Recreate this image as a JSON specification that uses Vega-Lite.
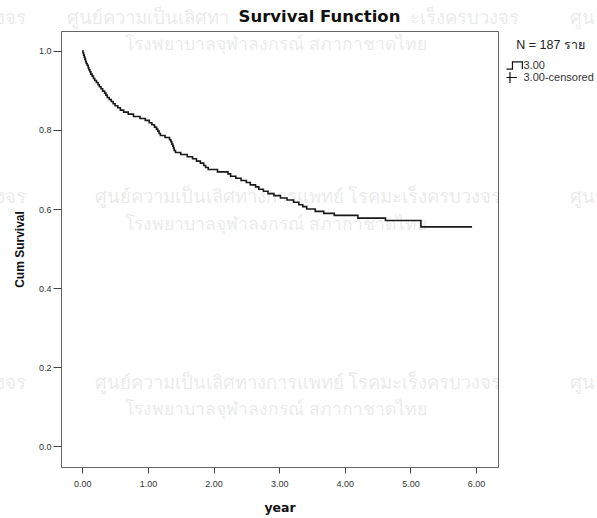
{
  "$schema": "https://vega.github.io/schema/vega-lite/v6.json",
  "autosize": {"type": "none"},
  "width": 437,
  "height": 436,
  "padding": {"left": 61, "top": 31, "right": 99, "bottom": 51},
  "background": "white",
  "title": {"text": "Survival Function", "frame": "group", "fontSize": 16.5, "fontWeight": "bold", "font": "DejaVu Sans", "color": "#111", "anchor": "middle", "dx": 40, "dy": 24, "offset": 7},
  "config": {
    "view": {"fill": "#f0f0f0", "stroke": "#666", "strokeWidth": 1},
    "font": "Liberation Sans",
    "axis": {"grid": false, "domain": false, "tickColor": "#444", "tickSize": 5, "labelFontSize": 9, "labelColor": "#333", "titleFontSize": 11, "titleFontWeight": "bold", "titleColor": "#111", "labelFont": "Liberation Sans", "titleFont": "Liberation Sans"}
  },
  "datasets": {
    "curve": [
      {"year": 0.0, "cum": 1.0},
      {"year": 0.01, "cum": 0.995},
      {"year": 0.02, "cum": 0.989},
      {"year": 0.03, "cum": 0.984},
      {"year": 0.04, "cum": 0.979},
      {"year": 0.05, "cum": 0.973},
      {"year": 0.06, "cum": 0.968},
      {"year": 0.075, "cum": 0.963},
      {"year": 0.09, "cum": 0.957},
      {"year": 0.10, "cum": 0.952},
      {"year": 0.115, "cum": 0.947},
      {"year": 0.13, "cum": 0.941},
      {"year": 0.15, "cum": 0.936},
      {"year": 0.17, "cum": 0.930},
      {"year": 0.19, "cum": 0.925},
      {"year": 0.215, "cum": 0.920},
      {"year": 0.24, "cum": 0.914},
      {"year": 0.26, "cum": 0.909},
      {"year": 0.285, "cum": 0.904},
      {"year": 0.31, "cum": 0.898},
      {"year": 0.34, "cum": 0.893},
      {"year": 0.36, "cum": 0.888},
      {"year": 0.38, "cum": 0.882},
      {"year": 0.41, "cum": 0.877},
      {"year": 0.44, "cum": 0.872},
      {"year": 0.47, "cum": 0.866},
      {"year": 0.50, "cum": 0.861},
      {"year": 0.54, "cum": 0.856},
      {"year": 0.58, "cum": 0.850},
      {"year": 0.63, "cum": 0.845},
      {"year": 0.70, "cum": 0.840},
      {"year": 0.78, "cum": 0.834},
      {"year": 0.88, "cum": 0.829},
      {"year": 0.96, "cum": 0.824},
      {"year": 1.02, "cum": 0.818},
      {"year": 1.06, "cum": 0.813},
      {"year": 1.10, "cum": 0.807},
      {"year": 1.13, "cum": 0.802},
      {"year": 1.15, "cum": 0.797},
      {"year": 1.17, "cum": 0.791},
      {"year": 1.19, "cum": 0.786},
      {"year": 1.26, "cum": 0.781},
      {"year": 1.33, "cum": 0.775},
      {"year": 1.35, "cum": 0.770},
      {"year": 1.365, "cum": 0.764},
      {"year": 1.38, "cum": 0.759},
      {"year": 1.39, "cum": 0.754},
      {"year": 1.40, "cum": 0.748},
      {"year": 1.42, "cum": 0.743},
      {"year": 1.50, "cum": 0.738},
      {"year": 1.60, "cum": 0.732},
      {"year": 1.68, "cum": 0.727},
      {"year": 1.74, "cum": 0.721},
      {"year": 1.80, "cum": 0.716},
      {"year": 1.85, "cum": 0.710},
      {"year": 1.88, "cum": 0.705},
      {"year": 1.92, "cum": 0.700},
      {"year": 2.06, "cum": 0.694},
      {"year": 2.22, "cum": 0.689},
      {"year": 2.26, "cum": 0.683},
      {"year": 2.34, "cum": 0.678},
      {"year": 2.42, "cum": 0.672},
      {"year": 2.50, "cum": 0.667},
      {"year": 2.56, "cum": 0.661},
      {"year": 2.64, "cum": 0.656},
      {"year": 2.69, "cum": 0.650},
      {"year": 2.76, "cum": 0.645},
      {"year": 2.83, "cum": 0.639},
      {"year": 2.92, "cum": 0.634},
      {"year": 3.02, "cum": 0.628},
      {"year": 3.12, "cum": 0.623},
      {"year": 3.22, "cum": 0.617},
      {"year": 3.30, "cum": 0.611},
      {"year": 3.36, "cum": 0.606},
      {"year": 3.42, "cum": 0.600},
      {"year": 3.55, "cum": 0.594},
      {"year": 3.68, "cum": 0.589},
      {"year": 3.84, "cum": 0.584},
      {"year": 4.20, "cum": 0.577},
      {"year": 4.62, "cum": 0.571},
      {"year": 5.16, "cum": 0.555},
      {"year": 5.94, "cum": 0.555}
    ],
    "watermark1": [
      {"year": -3.951, "cum": 1.083, "text": "ศูนย์ความเป็นเลิศทางการแพทย์ โรคมะเร็งครบวงจร"},
      {"year": 10.526, "cum": 1.083, "text": "ศูนย์ความเป็นเลิศทางการแพทย์ โรคมะเร็งครบวงจร"},
      {"year": 3.287, "cum": 0.630, "text": "ศูนย์ความเป็นเลิศทางการแพทย์ โรคมะเร็งครบวงจร"},
      {"year": -3.951, "cum": 0.630, "text": "ศูนย์ความเป็นเลิศทางการแพทย์ โรคมะเร็งครบวงจร"},
      {"year": 10.526, "cum": 0.630, "text": "ศูนย์ความเป็นเลิศทางการแพทย์ โรคมะเร็งครบวงจร"},
      {"year": 3.287, "cum": 0.160, "text": "ศูนย์ความเป็นเลิศทางการแพทย์ โรคมะเร็งครบวงจร"},
      {"year": -3.951, "cum": 0.160, "text": "ศูนย์ความเป็นเลิศทางการแพทย์ โรคมะเร็งครบวงจร"},
      {"year": 10.526, "cum": 0.160, "text": "ศูนย์ความเป็นเลิศทางการแพทย์ โรคมะเร็งครบวงจร"}
    ],
    "watermarkLeft": [
      {"year": 2.23, "cum": 1.083, "text": "ศูนย์ความเป็นเลิศทา"}
    ],
    "watermarkRight": [
      {"year": 4.99, "cum": 1.083, "text": "ะเร็งครบวงจร"}
    ],
    "watermark2": [
      {"year": 2.951, "cum": 1.015, "text": "โรงพยาบาลจุฬาลงกรณ์ สภากาชาดไทย"},
      {"year": 2.951, "cum": 0.559, "text": "โรงพยาบาลจุฬาลงกรณ์ สภากาชาดไทย"},
      {"year": 2.951, "cum": 0.092, "text": "โรงพยาบาลจุฬาลงกรณ์ สภากาชาดไทย"}
    ],
    "legend": [
      {"series": "3.00"},
      {"series": "3.00-censored"}
    ]
  },
  "layer": [
    {
      "data": {"name": "watermark1"},
      "mark": {"type": "text", "clip": false, "font": "Noto Sans", "fontSize": 18.5, "color": "#000", "opacity": 0.08, "align": "center", "baseline": "middle"},
      "encoding": {
        "x": {"field": "year", "type": "quantitative", "scale": {"domain": [-0.3246, 6.335], "nice": false, "zero": false}, "axis": {"title": "year", "values": [0, 1, 2, 3, 4, 5, 6], "format": ".2f", "titlePadding": 13, "labelPadding": 6, "tickSize": 6, "titleFont": "DejaVu Sans", "titleFontSize": 12.5}},
        "y": {"field": "cum", "type": "quantitative", "scale": {"domain": [-0.052, 1.050], "nice": false, "zero": false}, "axis": {"title": "Cum Survival", "values": [0, 0.2, 0.4, 0.6, 0.8, 1.0], "format": ".1f", "titlePadding": 12, "labelPadding": 2, "tickSize": 8, "titleFontSize": 12}},
        "text": {"field": "text"}
      }
    },
    {
      "data": {"name": "watermarkLeft"},
      "mark": {"type": "text", "clip": false, "font": "Noto Sans", "fontSize": 18.5, "color": "#000", "opacity": 0.08, "align": "right", "baseline": "middle"},
      "encoding": {
        "x": {"field": "year", "type": "quantitative"},
        "y": {"field": "cum", "type": "quantitative"},
        "text": {"field": "text"}
      }
    },
    {
      "data": {"name": "watermarkRight"},
      "mark": {"type": "text", "clip": false, "font": "Noto Sans", "fontSize": 18.5, "color": "#000", "opacity": 0.08, "align": "left", "baseline": "middle"},
      "encoding": {
        "x": {"field": "year", "type": "quantitative"},
        "y": {"field": "cum", "type": "quantitative"},
        "text": {"field": "text"}
      }
    },
    {
      "data": {"name": "watermark2"},
      "mark": {"type": "text", "clip": false, "font": "Noto Sans", "fontSize": 17.5, "color": "#000", "opacity": 0.08, "align": "center", "baseline": "middle"},
      "encoding": {
        "x": {"field": "year", "type": "quantitative"},
        "y": {"field": "cum", "type": "quantitative"},
        "text": {"field": "text"}
      }
    },
    {
      "data": {"name": "curve"},
      "mark": {"type": "line", "interpolate": "step-after", "color": "#1a1a1a", "strokeWidth": 1.6},
      "encoding": {
        "x": {"field": "year", "type": "quantitative"},
        "y": {"field": "cum", "type": "quantitative"}
      }
    },
    {
      "data": {"name": "legend"},
      "mark": {"type": "point", "filled": false, "opacity": 0},
      "encoding": {
        "shape": {
          "field": "series",
          "type": "nominal",
          "scale": {"domain": ["3.00", "3.00-censored"], "range": ["M-1.82,0.65H-0.1V-0.65H1.7V0.65", "M-1.82,0H0.7M-0.55,-1V1"]},
          "legend": {
            "orient": "none",
            "legendX": 445.5,
            "legendY": 8,
            "padding": 0,
            "title": "N = 187 ราย",
            "titleFontSize": 12.5,
            "titleFontWeight": "normal",
            "titleColor": "#222",
            "titleFont": "Liberation Sans",
            "titleAnchor": "middle",
            "titlePadding": 8,
            "symbolSize": 121,
            "symbolStrokeColor": "#111",
            "symbolFillColor": "transparent",
            "symbolStrokeWidth": 1.2,
            "labelFontSize": 11,
            "labelColor": "#333",
            "labelFont": "Liberation Sans",
            "labelOffset": 4,
            "rowPadding": 0,
            "clipHeight": 12,
            "encode": {"symbols": {"update": {"opacity": {"value": 1}, "strokeOpacity": {"value": 1}}}}
          }
        }
      }
    }
  ]
}
